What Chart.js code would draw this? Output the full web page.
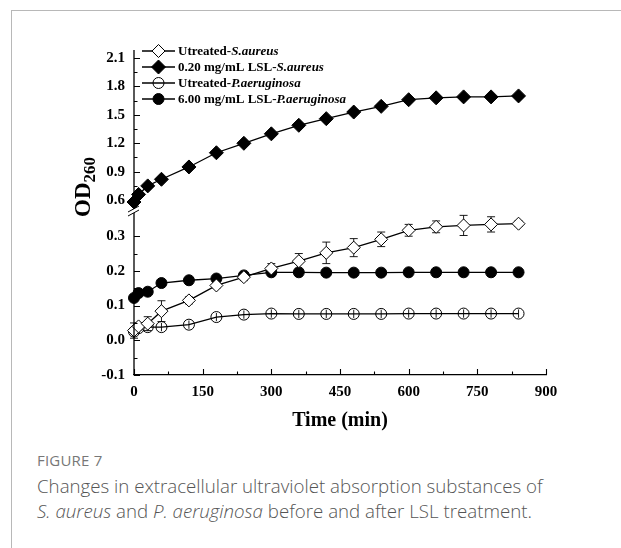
<!DOCTYPE html>
<html>
<head>
<meta charset="utf-8">
<script src="https://cdn.jsdelivr.net/npm/chart.js@4.4.0/dist/chart.umd.min.js"></script>
<style>
  body { margin: 0; background: #fff; width: 621px; height: 548px; overflow: hidden; position: relative; font-family: "Open Sans", sans-serif; }
  #frame { position: absolute; left: 11px; top: 10px; right: 0; bottom: 0; border-top: 1px solid #b8b8b8; border-left: 1px solid #b8b8b8; }
  #wrap { position: absolute; left: 0; top: 0; width: 621px; height: 440px; }
  .fig { position: absolute; left: 37px; top: 450px; font-size: 15px; font-weight: 400; color: #777; letter-spacing: 0.2px; }
  .cap { position: absolute; left: 37px; top: 473px; font-size: 18.7px; line-height: 25px; color: #555; font-weight: 300; white-space: nowrap; }
</style>
</head>
<body>
<div id="frame"></div>
<div id="wrap"><canvas id="chart" width="621" height="440"></canvas></div>
<div class="fig">FIGURE 7</div>
<div class="cap">Changes in extracellular ultraviolet absorption substances of<br><i>S. aureus</i> and <i>P. aeruginosa</i> before and after LSL treatment.</div>
<script>
const times = [0, 10, 30, 60, 120, 180, 240, 300, 360, 420, 480, 540, 600, 660, 720, 780, 840];

const saUntreated = [0.028, 0.040, 0.048, 0.084, 0.115, 0.158, 0.182, 0.207, 0.228, 0.252, 0.267, 0.291, 0.317, 0.327, 0.331, 0.334, 0.336];
const saUntreatedErr = [0.022, 0.010, 0.020, 0.030, 0.010, 0.008, 0.010, 0.014, 0.022, 0.031, 0.026, 0.021, 0.017, 0.017, 0.029, 0.022, 0.008];
const saTreated = [0.58, 0.66, 0.75, 0.82, 0.95, 1.10, 1.20, 1.30, 1.39, 1.46, 1.53, 1.59, 1.66, 1.68, 1.69, 1.69, 1.70];
const paUntreated = [0.025, 0.035, 0.038, 0.038, 0.045, 0.067, 0.074, 0.077, 0.076, 0.076, 0.076, 0.076, 0.077, 0.077, 0.077, 0.077, 0.077];
const paUntreatedErr = [0.012, 0.012, 0.012, 0.012, 0.012, 0.012, 0.012, 0.012, 0.012, 0.012, 0.012, 0.012, 0.012, 0.012, 0.012, 0.012, 0.012];
const paTreated = [0.122, 0.136, 0.140, 0.165, 0.173, 0.178, 0.187, 0.196, 0.196, 0.195, 0.195, 0.195, 0.196, 0.196, 0.196, 0.196, 0.196];

const seriesNames = [
  ["Utreated-", "S.aureus"],
  ["0.20 mg/mL LSL-", "S.aureus"],
  ["Utreated-", "P.aeruginosa"],
  ["6.00 mg/mL LSL-", "P.aeruginosa"]
];

const xTicks = [0, 150, 300, 450, 600, 750, 900];
const yUpperTicks = [0.6, 0.9, 1.2, 1.5, 1.8, 2.1];
const yLowerTicks = [-0.1, 0.0, 0.1, 0.2, 0.3];

const serif = "'Liberation Serif', 'Times New Roman', serif";

function pts(vals) {
  return vals.map((v, i) => ({ x: times[i], y: v }));
}

const datasets = [
  {
    label: seriesNames[0].join(""), data: pts(saUntreated), err: saUntreatedErr, cap: 4,
    yAxisID: "yLow", pointStyle: "rectRot", pointRadius: 6.5,
    pointBackgroundColor: "#fff", pointBorderColor: "#000", pointBorderWidth: 1
  },
  {
    label: seriesNames[1].join(""), data: pts(saTreated), yAxisID: "yUp",
    pointStyle: "rectRot", pointRadius: 7,
    pointBackgroundColor: "#000", pointBorderColor: "#000", pointBorderWidth: 1
  },
  {
    label: seriesNames[2].join(""), data: pts(paUntreated), err: paUntreatedErr, cap: 0,
    yAxisID: "yLow", pointStyle: "circle", pointRadius: 5.5,
    pointBackgroundColor: "rgba(255,255,255,0)", pointBorderColor: "#000", pointBorderWidth: 1
  },
  {
    label: seriesNames[3].join(""), data: pts(paTreated), yAxisID: "yLow",
    pointStyle: "circle", pointRadius: 5.5,
    pointBackgroundColor: "#000", pointBorderColor: "#000", pointBorderWidth: 1
  }
];
datasets.forEach(d => {
  d.borderColor = "#000";
  d.borderWidth = 1.3;
  d.tension = 0;
  d.fill = false;
  d.clip = false;
});

// error bars, drawn under the markers
const errorBars = {
  id: "errorBars",
  beforeDatasetsDraw(chart) {
    const ctx = chart.ctx;
    const xs = chart.scales.x;
    ctx.save();
    ctx.strokeStyle = "#000";
    ctx.lineWidth = 0.9;
    chart.data.datasets.forEach(ds => {
      if (!ds.err) return;
      const ys = chart.scales[ds.yAxisID];
      ds.data.forEach((p, i) => {
        const px = xs.getPixelForValue(p.x);
        const top = ys.getPixelForValue(p.y + ds.err[i]);
        const bot = ys.getPixelForValue(p.y - ds.err[i]);
        ctx.beginPath();
        ctx.moveTo(px, top);
        ctx.lineTo(px, bot);
        if (ds.cap) {
          ctx.moveTo(px - ds.cap, top);
          ctx.lineTo(px + ds.cap, top);
          ctx.moveTo(px - ds.cap, bot);
          ctx.lineTo(px + ds.cap, bot);
        }
        ctx.stroke();
      });
    });
    ctx.restore();
  }
};

// broken y axis, inward ticks, legend and y title
const decorations = {
  id: "decorations",
  afterDraw(chart) {
    const ctx = chart.ctx;
    const area = chart.chartArea;
    const xs = chart.scales.x;
    const up = chart.scales.yUp;
    const low = chart.scales.yLow;
    const ax = area.left;
    const brk = up.bottom;
    ctx.save();
    ctx.strokeStyle = "#000";
    ctx.lineWidth = 1.3;

    ctx.beginPath();
    ctx.moveTo(ax, area.top);
    ctx.lineTo(ax, brk - 2);
    ctx.moveTo(ax, brk + 2);
    ctx.lineTo(ax, area.bottom);
    ctx.stroke();

    ctx.lineWidth = 1;
    ctx.beginPath();
    ctx.moveTo(ax - 6, brk + 1);
    ctx.lineTo(ax + 5, brk - 5);
    ctx.moveTo(ax - 6, brk + 5);
    ctx.lineTo(ax + 5, brk - 1);
    ctx.stroke();

    ctx.lineWidth = 1.1;
    ctx.beginPath();
    for (let v = 0; v <= 900; v += 75) {
      const px = Math.round(xs.getPixelForValue(v)) + 0.5;
      const len = v % 150 === 0 ? 6 : 3.5;
      ctx.moveTo(px, area.bottom);
      ctx.lineTo(px, area.bottom - len);
    }
    for (let k = 0; k <= 10; k++) {
      const v = 0.6 + k * 0.15;
      const py = Math.round(up.getPixelForValue(v)) + 0.5;
      ctx.moveTo(ax, py);
      ctx.lineTo(ax + (k % 2 === 0 ? 6 : 3.5), py);
    }
    for (let k = 0; k <= 8; k++) {
      const v = -0.1 + k * 0.05;
      const py = Math.round(low.getPixelForValue(v)) + 0.5;
      ctx.moveTo(ax, py);
      ctx.lineTo(ax + (k % 2 === 0 ? 6 : 3.5), py);
    }
    ctx.stroke();

    // legend
    const rows = [51, 67, 83, 99];
    chart.data.datasets.forEach((ds, i) => {
      const y = rows[i];
      ctx.strokeStyle = "#000";
      ctx.lineWidth = 1.3;
      ctx.beginPath();
      ctx.moveTo(142, y);
      ctx.lineTo(175, y);
      ctx.stroke();
      ctx.fillStyle = ds.pointBackgroundColor;
      ctx.lineWidth = 1;
      Chart.helpers.drawPoint(ctx, { pointStyle: ds.pointStyle, radius: ds.pointRadius, rotation: 0, borderWidth: 1 }, 158.5, y);
      let tx = 178;
      ctx.fillStyle = "#000";
      ctx.textBaseline = "middle";
      seriesNames[i].forEach((part, j) => {
        ctx.font = (j === 1 ? "italic " : "") + "bold 13px " + serif;
        ctx.fillText(part, tx, y + 1);
        tx += ctx.measureText(part).width;
      });
    });

    // y title: OD with subscript 260
    ctx.translate(82, 187);
    ctx.rotate(-Math.PI / 2);
    ctx.fillStyle = "#000";
    ctx.textBaseline = "alphabetic";
    ctx.font = "bold 23px " + serif;
    const w1 = ctx.measureText("OD").width;
    ctx.font = "bold 17px " + serif;
    const w2 = ctx.measureText("260").width;
    const start = -(w1 + w2) / 2;
    ctx.font = "bold 23px " + serif;
    ctx.fillText("OD", start, 8);
    ctx.font = "bold 17px " + serif;
    ctx.fillText("260", start + w1, 13);
    ctx.restore();
  }
};

const tickFont = { family: serif, size: 15, weight: "bold" };

new Chart(document.getElementById("chart"), {
  type: "line",
  data: { datasets: datasets },
  options: {
    responsive: false,
    animation: false,
    layout: { padding: { left: 74, right: 75, top: 50, bottom: 0 } },
    plugins: {
      legend: { display: false },
      tooltip: { enabled: false }
    },
    scales: {
      x: {
        type: "linear",
        min: 0,
        max: 900,
        afterBuildTicks: s => { s.ticks = xTicks.map(v => ({ value: v })); },
        afterFit: s => { s.height = 65; },
        ticks: { color: "#000", font: tickFont, padding: 8, maxRotation: 0, autoSkip: false },
        grid: { display: false, drawTicks: false },
        border: { color: "#000", width: 1.3 },
        title: {
          display: true,
          text: "Time (min)",
          color: "#000",
          font: { family: serif, size: 20, weight: "bold" },
          padding: { top: 0, bottom: 7 }
        }
      },
      yLow: {
        type: "linear",
        position: "left",
        stack: "y",
        stackWeight: 164,
        min: -0.1,
        max: 0.3726,
        afterBuildTicks: s => { s.ticks = yLowerTicks.map(v => ({ value: v })); },
        afterFit: s => { s.width = 60; },
        ticks: { color: "#000", font: tickFont, padding: 9, autoSkip: false, callback: v => v.toFixed(1) },
        grid: { display: false, drawTicks: false },
        border: { display: false }
      },
      yUp: {
        type: "linear",
        position: "left",
        stack: "y",
        stackWeight: 161,
        min: 0.485,
        max: 2.185,
        afterBuildTicks: s => { s.ticks = yUpperTicks.map(v => ({ value: v })); },
        afterFit: s => { s.width = 60; },
        ticks: { color: "#000", font: tickFont, padding: 9, autoSkip: false, callback: v => v.toFixed(1) },
        grid: { display: false, drawTicks: false },
        border: { display: false }
      }
    }
  },
  plugins: [errorBars, decorations]
});
</script>
</body>
</html>
